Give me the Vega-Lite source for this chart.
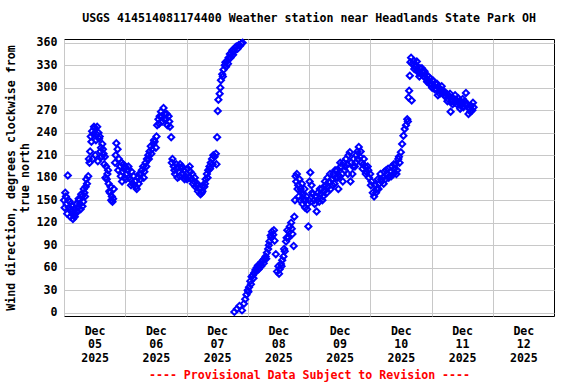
{
  "$schema": "https://vega.github.io/schema/vega-lite/v6.json",
  "width": 490,
  "height": 277,
  "autosize": {"type": "none"},
  "padding": {"left": 64, "top": 39, "right": 22, "bottom": 68},
  "background": "white",
  "title": {"text": "USGS 414514081174400 Weather station near Headlands State Park OH", "font": "DejaVu Sans Mono", "fontSize": 11.6, "fontWeight": "bold", "color": "black", "anchor": "middle", "offset": 11},
  "config": {"view": {"stroke": "black", "strokeWidth": 1}},
  "data": {"values": [
    {"t":"2025-12-05T00:00","v":150},{"t":"2025-12-05T00:30","v":160},{"t":"2025-12-05T01:00","v":145},{"t":"2025-12-05T01:30","v":183},
    {"t":"2025-12-05T02:00","v":140},{"t":"2025-12-05T02:30","v":128},{"t":"2025-12-05T03:00","v":135},{"t":"2025-12-05T03:30","v":125},
    {"t":"2025-12-05T04:00","v":138},{"t":"2025-12-05T04:30","v":132},{"t":"2025-12-05T05:00","v":145},{"t":"2025-12-05T05:30","v":140},
    {"t":"2025-12-05T06:00","v":150},{"t":"2025-12-05T06:30","v":138},{"t":"2025-12-05T07:00","v":155},{"t":"2025-12-05T07:30","v":148},
    {"t":"2025-12-05T08:00","v":160},{"t":"2025-12-05T08:30","v":168},{"t":"2025-12-05T09:00","v":172},{"t":"2025-12-05T09:30","v":182},
    {"t":"2025-12-05T09:45","v":205},{"t":"2025-12-05T10:00","v":200},{"t":"2025-12-05T10:30","v":235},{"t":"2025-12-05T11:00","v":242},
    {"t":"2025-12-05T11:15","v":205},{"t":"2025-12-05T11:30","v":238},{"t":"2025-12-05T12:00","v":246},{"t":"2025-12-05T12:15","v":210},
    {"t":"2025-12-05T12:30","v":230},{"t":"2025-12-05T13:00","v":248},{"t":"2025-12-05T13:15","v":202},{"t":"2025-12-05T13:30","v":240},
    {"t":"2025-12-05T14:00","v":235},{"t":"2025-12-05T14:15","v":215},{"t":"2025-12-05T14:30","v":220},{"t":"2025-12-05T15:00","v":225},
    {"t":"2025-12-05T15:30","v":212},{"t":"2025-12-05T15:45","v":198},{"t":"2025-12-05T16:00","v":208},{"t":"2025-12-05T16:15","v":180},
    {"t":"2025-12-05T16:30","v":195},{"t":"2025-12-05T17:00","v":185},{"t":"2025-12-05T17:30","v":172},{"t":"2025-12-05T18:00","v":160},
    {"t":"2025-12-05T18:15","v":168},{"t":"2025-12-05T18:30","v":150},{"t":"2025-12-05T19:00","v":148},{"t":"2025-12-05T19:15","v":152},
    {"t":"2025-12-05T19:30","v":165},{"t":"2025-12-05T20:00","v":200},{"t":"2025-12-05T20:15","v":210},{"t":"2025-12-05T20:30","v":226},
    {"t":"2025-12-05T21:00","v":218},{"t":"2025-12-05T21:15","v":190},{"t":"2025-12-05T21:30","v":205},{"t":"2025-12-05T22:00","v":195},
    {"t":"2025-12-05T22:15","v":182},{"t":"2025-12-05T22:30","v":200},{"t":"2025-12-05T23:00","v":188},{"t":"2025-12-05T23:30","v":192},
    {"t":"2025-12-05T00:15","v":140},{"t":"2025-12-05T00:45","v":155},{"t":"2025-12-05T01:15","v":132},{"t":"2025-12-05T01:45","v":150},
    {"t":"2025-12-05T02:15","v":148},{"t":"2025-12-05T02:45","v":138},{"t":"2025-12-05T03:15","v":142},{"t":"2025-12-05T03:45","v":130},
    {"t":"2025-12-05T04:15","v":128},{"t":"2025-12-05T04:45","v":145},{"t":"2025-12-05T05:15","v":135},{"t":"2025-12-05T05:45","v":152},
    {"t":"2025-12-05T06:15","v":145},{"t":"2025-12-05T06:45","v":158},{"t":"2025-12-05T07:15","v":142},{"t":"2025-12-05T07:45","v":165},
    {"t":"2025-12-05T08:15","v":155},{"t":"2025-12-05T08:45","v":178},{"t":"2025-12-05T10:15","v":215},{"t":"2025-12-05T10:45","v":228},
    {"t":"2025-12-05T11:45","v":248},{"t":"2025-12-05T12:45","v":238},{"t":"2025-12-05T13:45","v":232},{"t":"2025-12-05T14:45","v":208},
    {"t":"2025-12-05T15:15","v":218},{"t":"2025-12-05T16:45","v":178},{"t":"2025-12-05T17:15","v":190},{"t":"2025-12-05T17:45","v":162},
    {"t":"2025-12-05T18:45","v":155},{"t":"2025-12-05T22:45","v":175},{"t":"2025-12-05T23:15","v":198},{"t":"2025-12-05T23:45","v":180},
    {"t":"2025-12-06T00:00","v":195},{"t":"2025-12-06T00:30","v":185},{"t":"2025-12-06T01:00","v":190},{"t":"2025-12-06T01:30","v":180},
    {"t":"2025-12-06T02:00","v":178},{"t":"2025-12-06T02:30","v":188},{"t":"2025-12-06T03:00","v":172},{"t":"2025-12-06T03:30","v":170},
    {"t":"2025-12-06T04:00","v":175},{"t":"2025-12-06T04:30","v":165},{"t":"2025-12-06T05:00","v":180},{"t":"2025-12-06T05:30","v":185},
    {"t":"2025-12-06T06:00","v":178},{"t":"2025-12-06T06:30","v":190},{"t":"2025-12-06T07:00","v":195},{"t":"2025-12-06T07:30","v":188},
    {"t":"2025-12-06T08:00","v":200},{"t":"2025-12-06T08:30","v":205},{"t":"2025-12-06T09:00","v":210},{"t":"2025-12-06T09:30","v":215},
    {"t":"2025-12-06T10:00","v":222},{"t":"2025-12-06T10:30","v":218},{"t":"2025-12-06T11:00","v":225},{"t":"2025-12-06T11:30","v":228},
    {"t":"2025-12-06T12:00","v":220},{"t":"2025-12-06T12:30","v":250},{"t":"2025-12-06T13:00","v":258},{"t":"2025-12-06T13:30","v":262},
    {"t":"2025-12-06T14:00","v":268},{"t":"2025-12-06T14:30","v":255},{"t":"2025-12-06T15:00","v":273},{"t":"2025-12-06T15:30","v":265},
    {"t":"2025-12-06T16:00","v":258},{"t":"2025-12-06T16:30","v":250},{"t":"2025-12-06T17:00","v":262},{"t":"2025-12-06T17:30","v":248},
    {"t":"2025-12-06T18:00","v":234},{"t":"2025-12-06T18:15","v":200},{"t":"2025-12-06T18:30","v":205},{"t":"2025-12-06T19:00","v":195},
    {"t":"2025-12-06T19:30","v":185},{"t":"2025-12-06T20:00","v":198},{"t":"2025-12-06T20:30","v":180},{"t":"2025-12-06T21:00","v":188},
    {"t":"2025-12-06T21:30","v":198},{"t":"2025-12-06T22:00","v":192},{"t":"2025-12-06T22:30","v":185},{"t":"2025-12-06T23:00","v":190},
    {"t":"2025-12-06T23:30","v":182},
    {"t":"2025-12-06T00:15","v":178},{"t":"2025-12-06T01:15","v":195},{"t":"2025-12-06T02:15","v":170},{"t":"2025-12-06T03:15","v":182},
    {"t":"2025-12-06T04:15","v":168},{"t":"2025-12-06T05:15","v":172},{"t":"2025-12-06T06:15","v":185},{"t":"2025-12-06T07:15","v":180},
    {"t":"2025-12-06T08:15","v":195},{"t":"2025-12-06T09:15","v":205},{"t":"2025-12-06T10:15","v":212},{"t":"2025-12-06T11:15","v":230},
    {"t":"2025-12-06T12:15","v":235},{"t":"2025-12-06T13:15","v":252},{"t":"2025-12-06T14:15","v":262},{"t":"2025-12-06T15:15","v":258},
    {"t":"2025-12-06T16:15","v":265},{"t":"2025-12-06T17:15","v":255},{"t":"2025-12-06T19:15","v":190},{"t":"2025-12-06T20:15","v":192},
    {"t":"2025-12-06T21:15","v":182},{"t":"2025-12-06T22:15","v":195},{"t":"2025-12-06T23:15","v":178},
    {"t":"2025-12-07T00:00","v":185},{"t":"2025-12-07T00:30","v":192},{"t":"2025-12-07T01:00","v":180},{"t":"2025-12-07T01:30","v":188},
    {"t":"2025-12-07T02:00","v":178},{"t":"2025-12-07T02:30","v":172},{"t":"2025-12-07T03:00","v":175},{"t":"2025-12-07T03:30","v":168},
    {"t":"2025-12-07T04:00","v":170},{"t":"2025-12-07T04:30","v":162},{"t":"2025-12-07T05:00","v":165},{"t":"2025-12-07T05:30","v":158},
    {"t":"2025-12-07T06:00","v":160},{"t":"2025-12-07T06:30","v":170},{"t":"2025-12-07T07:00","v":168},{"t":"2025-12-07T07:30","v":178},
    {"t":"2025-12-07T08:00","v":185},{"t":"2025-12-07T08:30","v":190},{"t":"2025-12-07T09:00","v":195},{"t":"2025-12-07T09:30","v":200},
    {"t":"2025-12-07T10:00","v":205},{"t":"2025-12-07T10:30","v":210},{"t":"2025-12-07T11:00","v":208},{"t":"2025-12-07T11:30","v":212},
    {"t":"2025-12-07T11:45","v":198},{"t":"2025-12-07T12:00","v":234},{"t":"2025-12-07T12:15","v":269},{"t":"2025-12-07T12:30","v":284},
    {"t":"2025-12-07T13:00","v":292},{"t":"2025-12-07T13:30","v":310},{"t":"2025-12-07T14:00","v":318},{"t":"2025-12-07T14:30","v":324},
    {"t":"2025-12-07T15:00","v":330},{"t":"2025-12-07T15:30","v":328},{"t":"2025-12-07T16:00","v":336},{"t":"2025-12-07T16:30","v":340},
    {"t":"2025-12-07T17:00","v":345},{"t":"2025-12-07T17:30","v":346},{"t":"2025-12-07T18:00","v":350},{"t":"2025-12-07T18:30","v":348},
    {"t":"2025-12-07T18:45","v":1},{"t":"2025-12-07T19:00","v":353},{"t":"2025-12-07T19:30","v":355},{"t":"2025-12-07T19:45","v":5},
    {"t":"2025-12-07T20:00","v":352},{"t":"2025-12-07T20:30","v":357},{"t":"2025-12-07T20:45","v":9},{"t":"2025-12-07T21:00","v":356},
    {"t":"2025-12-07T21:30","v":359},{"t":"2025-12-07T21:45","v":3},{"t":"2025-12-07T22:00","v":360},{"t":"2025-12-07T22:30","v":12},
    {"t":"2025-12-07T23:00","v":18},{"t":"2025-12-07T23:30","v":24},
    {"t":"2025-12-07T00:15","v":178},{"t":"2025-12-07T01:15","v":195},{"t":"2025-12-07T02:15","v":185},{"t":"2025-12-07T03:15","v":180},
    {"t":"2025-12-07T04:15","v":172},{"t":"2025-12-07T05:15","v":165},{"t":"2025-12-07T06:15","v":162},{"t":"2025-12-07T07:15","v":172},
    {"t":"2025-12-07T08:15","v":180},{"t":"2025-12-07T09:15","v":192},{"t":"2025-12-07T10:15","v":198},{"t":"2025-12-07T13:15","v":300},
    {"t":"2025-12-07T14:15","v":315},{"t":"2025-12-07T15:15","v":334},{"t":"2025-12-07T16:15","v":332},{"t":"2025-12-07T17:15","v":340},
    {"t":"2025-12-07T18:15","v":344},
    {"t":"2025-12-08T00:00","v":30},{"t":"2025-12-08T00:30","v":34},{"t":"2025-12-08T01:00","v":42},{"t":"2025-12-08T01:30","v":48},
    {"t":"2025-12-08T02:00","v":50},{"t":"2025-12-08T02:30","v":53},{"t":"2025-12-08T03:00","v":57},{"t":"2025-12-08T03:30","v":60},
    {"t":"2025-12-08T04:00","v":63},{"t":"2025-12-08T04:30","v":60},{"t":"2025-12-08T05:00","v":65},{"t":"2025-12-08T05:30","v":68},
    {"t":"2025-12-08T06:00","v":70},{"t":"2025-12-08T06:30","v":72},{"t":"2025-12-08T07:00","v":75},{"t":"2025-12-08T07:30","v":80},
    {"t":"2025-12-08T08:00","v":85},{"t":"2025-12-08T08:30","v":95},{"t":"2025-12-08T09:00","v":103},{"t":"2025-12-08T09:30","v":108},
    {"t":"2025-12-08T10:00","v":104},{"t":"2025-12-08T10:30","v":96},{"t":"2025-12-08T11:00","v":78},{"t":"2025-12-08T11:30","v":55},
    {"t":"2025-12-08T12:00","v":62},{"t":"2025-12-08T12:30","v":58},{"t":"2025-12-08T13:00","v":65},{"t":"2025-12-08T13:30","v":70},
    {"t":"2025-12-08T14:00","v":75},{"t":"2025-12-08T14:30","v":82},{"t":"2025-12-08T15:00","v":95},{"t":"2025-12-08T15:30","v":110},
    {"t":"2025-12-08T16:00","v":100},{"t":"2025-12-08T16:30","v":115},{"t":"2025-12-08T17:00","v":120},{"t":"2025-12-08T17:30","v":105},
    {"t":"2025-12-08T18:00","v":89},{"t":"2025-12-08T18:15","v":128},{"t":"2025-12-08T18:30","v":150},{"t":"2025-12-08T18:45","v":182},
    {"t":"2025-12-08T19:00","v":175},{"t":"2025-12-08T19:15","v":185},{"t":"2025-12-08T19:30","v":165},{"t":"2025-12-08T19:45","v":170},
    {"t":"2025-12-08T20:00","v":155},{"t":"2025-12-08T20:15","v":178},{"t":"2025-12-08T20:30","v":150},{"t":"2025-12-08T21:00","v":160},
    {"t":"2025-12-08T21:15","v":172},{"t":"2025-12-08T21:30","v":145},{"t":"2025-12-08T22:00","v":150},{"t":"2025-12-08T22:15","v":165},
    {"t":"2025-12-08T22:30","v":140},{"t":"2025-12-08T23:00","v":155},{"t":"2025-12-08T23:30","v":145},{"t":"2025-12-08T23:45","v":115},
    {"t":"2025-12-08T00:15","v":28},{"t":"2025-12-08T01:15","v":38},{"t":"2025-12-08T02:15","v":46},{"t":"2025-12-08T03:15","v":55},
    {"t":"2025-12-08T04:15","v":58},{"t":"2025-12-08T05:15","v":62},{"t":"2025-12-08T06:15","v":66},{"t":"2025-12-08T07:15","v":72},
    {"t":"2025-12-08T08:15","v":90},{"t":"2025-12-08T09:15","v":100},{"t":"2025-12-08T10:15","v":110},{"t":"2025-12-08T12:15","v":52},
    {"t":"2025-12-08T13:15","v":62},{"t":"2025-12-08T14:15","v":85},{"t":"2025-12-08T15:15","v":100},{"t":"2025-12-08T16:15","v":108},
    {"t":"2025-12-08T17:15","v":112},{"t":"2025-12-08T20:45","v":165},{"t":"2025-12-08T21:45","v":158},{"t":"2025-12-08T22:45","v":150},
    {"t":"2025-12-08T23:15","v":138},
    {"t":"2025-12-09T00:00","v":150},{"t":"2025-12-09T00:30","v":187},{"t":"2025-12-09T01:00","v":170},{"t":"2025-12-09T01:30","v":158},
    {"t":"2025-12-09T02:00","v":150},{"t":"2025-12-09T02:30","v":155},{"t":"2025-12-09T03:00","v":135},{"t":"2025-12-09T03:30","v":160},
    {"t":"2025-12-09T04:00","v":148},{"t":"2025-12-09T04:30","v":158},{"t":"2025-12-09T05:00","v":165},{"t":"2025-12-09T05:30","v":155},
    {"t":"2025-12-09T06:00","v":162},{"t":"2025-12-09T06:30","v":170},{"t":"2025-12-09T07:00","v":160},{"t":"2025-12-09T07:30","v":168},
    {"t":"2025-12-09T08:00","v":175},{"t":"2025-12-09T08:30","v":165},{"t":"2025-12-09T09:00","v":178},{"t":"2025-12-09T09:30","v":185},
    {"t":"2025-12-09T10:00","v":172},{"t":"2025-12-09T10:30","v":180},{"t":"2025-12-09T11:00","v":190},{"t":"2025-12-09T11:30","v":165},
    {"t":"2025-12-09T12:00","v":182},{"t":"2025-12-09T12:30","v":195},{"t":"2025-12-09T13:00","v":185},{"t":"2025-12-09T13:30","v":200},
    {"t":"2025-12-09T14:00","v":190},{"t":"2025-12-09T14:30","v":205},{"t":"2025-12-09T15:00","v":198},{"t":"2025-12-09T15:30","v":210},
    {"t":"2025-12-09T16:00","v":214},{"t":"2025-12-09T16:15","v":175},{"t":"2025-12-09T16:30","v":200},{"t":"2025-12-09T17:00","v":185},
    {"t":"2025-12-09T17:30","v":205},{"t":"2025-12-09T18:00","v":195},{"t":"2025-12-09T18:30","v":210},{"t":"2025-12-09T19:00","v":215},
    {"t":"2025-12-09T19:30","v":221},{"t":"2025-12-09T20:00","v":208},{"t":"2025-12-09T20:30","v":200},{"t":"2025-12-09T21:00","v":192},
    {"t":"2025-12-09T21:30","v":205},{"t":"2025-12-09T22:00","v":195},{"t":"2025-12-09T22:30","v":188},{"t":"2025-12-09T23:00","v":195},
    {"t":"2025-12-09T23:30","v":180},
    {"t":"2025-12-09T00:15","v":175},{"t":"2025-12-09T01:15","v":160},{"t":"2025-12-09T02:15","v":145},{"t":"2025-12-09T03:15","v":150},
    {"t":"2025-12-09T04:15","v":165},{"t":"2025-12-09T05:15","v":150},{"t":"2025-12-09T06:15","v":175},{"t":"2025-12-09T07:15","v":180},
    {"t":"2025-12-09T08:15","v":185},{"t":"2025-12-09T09:15","v":170},{"t":"2025-12-09T10:15","v":190},{"t":"2025-12-09T11:15","v":180},
    {"t":"2025-12-09T12:15","v":200},{"t":"2025-12-09T13:15","v":175},{"t":"2025-12-09T14:15","v":195},{"t":"2025-12-09T15:15","v":185},
    {"t":"2025-12-09T17:15","v":195},{"t":"2025-12-09T18:15","v":200},{"t":"2025-12-09T19:15","v":205},{"t":"2025-12-09T20:15","v":215},
    {"t":"2025-12-09T21:15","v":198},{"t":"2025-12-09T22:15","v":185},{"t":"2025-12-09T23:15","v":190},
    {"t":"2025-12-10T00:00","v":185},{"t":"2025-12-10T00:30","v":175},{"t":"2025-12-10T01:00","v":160},{"t":"2025-12-10T01:30","v":155},
    {"t":"2025-12-10T02:00","v":170},{"t":"2025-12-10T02:30","v":165},{"t":"2025-12-10T03:00","v":178},{"t":"2025-12-10T03:30","v":172},
    {"t":"2025-12-10T04:00","v":185},{"t":"2025-12-10T04:30","v":175},{"t":"2025-12-10T05:00","v":180},{"t":"2025-12-10T05:30","v":188},
    {"t":"2025-12-10T06:00","v":178},{"t":"2025-12-10T06:30","v":185},{"t":"2025-12-10T07:00","v":192},{"t":"2025-12-10T07:30","v":182},
    {"t":"2025-12-10T08:00","v":188},{"t":"2025-12-10T08:30","v":195},{"t":"2025-12-10T09:00","v":185},{"t":"2025-12-10T09:30","v":192},
    {"t":"2025-12-10T10:00","v":198},{"t":"2025-12-10T10:30","v":190},{"t":"2025-12-10T11:00","v":205},{"t":"2025-12-10T11:30","v":200},
    {"t":"2025-12-10T12:00","v":214},{"t":"2025-12-10T12:30","v":225},{"t":"2025-12-10T13:00","v":236},{"t":"2025-12-10T13:30","v":245},
    {"t":"2025-12-10T14:00","v":250},{"t":"2025-12-10T14:30","v":258},{"t":"2025-12-10T14:45","v":255},{"t":"2025-12-10T15:00","v":287},
    {"t":"2025-12-10T15:15","v":296},{"t":"2025-12-10T15:30","v":316},{"t":"2025-12-10T15:45","v":334},{"t":"2025-12-10T16:00","v":340},
    {"t":"2025-12-10T16:15","v":283},{"t":"2025-12-10T16:30","v":332},{"t":"2025-12-10T17:00","v":336},{"t":"2025-12-10T17:30","v":328},
    {"t":"2025-12-10T18:00","v":330},{"t":"2025-12-10T18:30","v":324},{"t":"2025-12-10T19:00","v":320},{"t":"2025-12-10T19:30","v":326},
    {"t":"2025-12-10T20:00","v":318},{"t":"2025-12-10T20:30","v":322},{"t":"2025-12-10T21:00","v":315},{"t":"2025-12-10T21:30","v":318},
    {"t":"2025-12-10T22:00","v":312},{"t":"2025-12-10T22:30","v":316},{"t":"2025-12-10T23:00","v":308},{"t":"2025-12-10T23:30","v":312},
    {"t":"2025-12-10T00:15","v":170},{"t":"2025-12-10T02:15","v":160},{"t":"2025-12-10T03:15","v":165},{"t":"2025-12-10T04:15","v":178},
    {"t":"2025-12-10T05:15","v":172},{"t":"2025-12-10T06:15","v":190},{"t":"2025-12-10T07:15","v":180},{"t":"2025-12-10T08:15","v":182},
    {"t":"2025-12-10T09:15","v":198},{"t":"2025-12-10T10:15","v":185},{"t":"2025-12-10T11:15","v":208},{"t":"2025-12-10T17:15","v":325},
    {"t":"2025-12-10T18:15","v":335},{"t":"2025-12-10T19:15","v":315},{"t":"2025-12-10T20:15","v":326},{"t":"2025-12-10T21:15","v":322},
    {"t":"2025-12-10T22:15","v":308},{"t":"2025-12-10T23:15","v":305},
    {"t":"2025-12-11T00:00","v":305},{"t":"2025-12-11T00:30","v":310},{"t":"2025-12-11T01:00","v":302},{"t":"2025-12-11T01:30","v":306},
    {"t":"2025-12-11T02:00","v":298},{"t":"2025-12-11T02:30","v":290},{"t":"2025-12-11T03:00","v":300},{"t":"2025-12-11T03:30","v":296},
    {"t":"2025-12-11T04:00","v":302},{"t":"2025-12-11T04:30","v":292},{"t":"2025-12-11T05:00","v":295},{"t":"2025-12-11T05:30","v":288},
    {"t":"2025-12-11T06:00","v":292},{"t":"2025-12-11T06:30","v":285},{"t":"2025-12-11T07:00","v":288},{"t":"2025-12-11T07:30","v":268},
    {"t":"2025-12-11T08:00","v":282},{"t":"2025-12-11T08:30","v":286},{"t":"2025-12-11T09:00","v":280},{"t":"2025-12-11T09:30","v":284},
    {"t":"2025-12-11T10:00","v":278},{"t":"2025-12-11T10:30","v":286},{"t":"2025-12-11T11:00","v":282},{"t":"2025-12-11T11:30","v":276},
    {"t":"2025-12-11T12:00","v":280},{"t":"2025-12-11T12:30","v":274},{"t":"2025-12-11T13:00","v":282},{"t":"2025-12-11T13:30","v":293},
    {"t":"2025-12-11T14:00","v":278},{"t":"2025-12-11T14:30","v":265},{"t":"2025-12-11T15:00","v":272},{"t":"2025-12-11T15:30","v":276},
    {"t":"2025-12-11T16:00","v":270},{"t":"2025-12-11T16:30","v":274},
    {"t":"2025-12-11T00:15","v":300},{"t":"2025-12-11T01:15","v":298},{"t":"2025-12-11T02:15","v":305},{"t":"2025-12-11T03:15","v":292},
    {"t":"2025-12-11T04:15","v":296},{"t":"2025-12-11T05:15","v":290},{"t":"2025-12-11T06:15","v":282},{"t":"2025-12-11T07:15","v":292},
    {"t":"2025-12-11T08:15","v":278},{"t":"2025-12-11T09:15","v":290},{"t":"2025-12-11T10:15","v":282},{"t":"2025-12-11T11:15","v":272},
    {"t":"2025-12-11T12:15","v":285},{"t":"2025-12-11T13:15","v":278},{"t":"2025-12-11T14:15","v":274},{"t":"2025-12-11T15:15","v":268},
    {"t":"2025-12-11T16:15","v":280}
  ]},
  "mark": {"type": "point", "shape": "diamond", "filled": false, "color": "#0000ff", "size": 38, "strokeWidth": 2, "opacity": 1},
  "encoding": {
    "x": {
      "field": "t", "type": "temporal",
      "scale": {"domain": [{"year": 2025, "month": 12, "date": 5}, {"year": 2025, "month": 12, "date": 13}]},
      "axis": {
        "values": [{"year": 2025, "month": 12, "date": 5}, {"year": 2025, "month": 12, "date": 6}, {"year": 2025, "month": 12, "date": 7}, {"year": 2025, "month": 12, "date": 8}, {"year": 2025, "month": 12, "date": 9}, {"year": 2025, "month": 12, "date": 10}, {"year": 2025, "month": 12, "date": 11}, {"year": 2025, "month": 12, "date": 12}],
        "labelExpr": "[timeFormat(datum.value, '%b'), timeFormat(datum.value, '%d'), timeFormat(datum.value, '%Y')]",
        "labelOffset": 30.6, "labelFlush": false, "labelOverlap": false, "labelBound": false,
        "ticks": false, "domain": false, "grid": true, "gridColor": "#c8c8c8", "gridWidth": 1, "gridOpacity": 1,
        "labelFont": "DejaVu Sans Mono", "labelFontSize": 11.6, "labelFontWeight": "bold", "labelColor": "black",
        "labelPadding": 9, "labelLineHeight": 13.5, "labelBaseline": "top", "labelAlign": "center", "labelAngle": 0,
        "title": "---- Provisional Data Subject to Revision ----", "titleColor": "#ff0000", "titleFont": "DejaVu Sans Mono", "titleFontSize": 11.6, "titleFontWeight": "bold", "titlePadding": 6
      }
    },
    "y": {
      "field": "v", "type": "quantitative",
      "scale": {"domain": [-4.5, 365], "nice": false, "zero": false},
      "axis": {
        "values": [0, 30, 60, 90, 120, 150, 180, 210, 240, 270, 300, 330, 360],
        "ticks": false, "domain": false, "grid": true, "gridColor": "#c8c8c8", "gridWidth": 1, "gridOpacity": 1, "labelFlush": false,
        "labelFont": "DejaVu Sans Mono", "labelFontSize": 11.6, "labelFontWeight": "bold", "labelColor": "black", "labelPadding": 7,
        "title": ["Wind direction, degrees clockwise from", "true north"], "titleColor": "black", "titleFont": "DejaVu Sans Mono", "titleFontSize": 11.6, "titleFontWeight": "bold", "titlePadding": 6, "titleLineHeight": 14
      }
    }
  }
}
